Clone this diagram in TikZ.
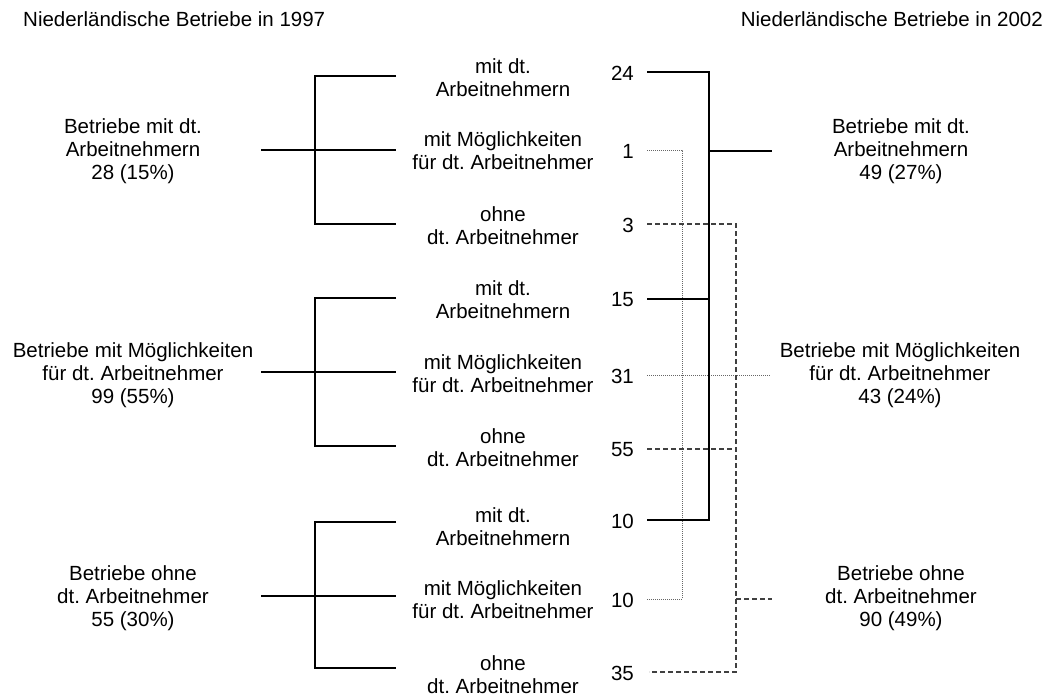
\documentclass[tikz,border=0pt]{standalone}
\usepackage{fontspec}
\setmainfont{Liberation Sans}
\frenchspacing
\begin{document}
\begin{tikzpicture}[x=1pt,y=-1pt,
  txt/.style={font=\fontsize{20.5}{23}\selectfont, align=center, inner sep=0pt},
  num/.style={txt, anchor=east},
  brk/.style={line width=1.2pt},
  solidA/.style={line width=1.6pt},
  solidB/.style={line width=2.8pt},
  dotln/.style={black!60, line width=0.9pt, dash pattern=on 1pt off 1pt},
  dashln/.style={black!75, line width=1.1pt, dash pattern=on 5pt off 3pt}]
\useasboundingbox (0,0) rectangle (1045,697);

% titles
\node[txt, anchor=west] (t1) at (23,19) {Niederländische Betriebe in 1997};
\node[txt, anchor=east] (t2) at (1043,19) {Niederländische Betriebe in 2002};

% left group labels
\node[txt] (L1) at (133,151) {Betriebe mit dt.\\Arbeitnehmern\\28 (15\%)};
\node[txt] (L2) at (133,375) {Betriebe mit Möglichkeiten\\für dt. Arbeitnehmer\\99 (55\%)};
\node[txt] (L3) at (133,598) {Betriebe ohne\\dt. Arbeitnehmer\\55 (30\%)};

% middle labels
\node[txt] (m1a) at (503,78) {mit dt.\\Arbeitnehmern};
\node[txt] (m1b) at (503,151) {mit Möglichkeiten\\für dt. Arbeitnehmer};
\node[txt] (m1c) at (503,226) {ohne\\dt. Arbeitnehmer};
\node[txt] (m2a) at (503,300) {mit dt.\\Arbeitnehmern};
\node[txt] (m2b) at (503,374) {mit Möglichkeiten\\für dt. Arbeitnehmer};
\node[txt] (m2c) at (503,448) {ohne\\dt. Arbeitnehmer};
\node[txt] (m3a) at (503,527) {mit dt.\\Arbeitnehmern};
\node[txt] (m3b) at (503,600) {mit Möglichkeiten\\für dt. Arbeitnehmer};
\node[txt] (m3c) at (503,675) {ohne\\dt. Arbeitnehmer};

% numbers
\node[num] (n1) at (634,73) {24};
\node[num] (n2) at (634,151) {1};
\node[num] (n3) at (634,225) {3};
\node[num] (n4) at (634,300) {15};
\node[num] (n5) at (634,376) {31};
\node[num] (n6) at (634,450) {55};
\node[num] (n7) at (634,521) {10};
\node[num] (n8) at (634,600) {10};
\node[num] (n9) at (634,673) {35};

% right group labels
\node[txt] (R1) at (901,151) {Betriebe mit dt.\\Arbeitnehmern\\49 (27\%)};
\node[txt] (R2) at (900,375) {Betriebe mit Möglichkeiten\\für dt. Arbeitnehmer\\43 (24\%)};
\node[txt] (R3) at (901,598) {Betriebe ohne\\dt. Arbeitnehmer\\90 (49\%)};

% left brackets
\foreach \g/\ya/\yb/\yc in {1/76/150/224, 2/298/372/446, 3/522/596/668}{
  \coordinate (s\g) at (261,\yb);
  \coordinate (ja\g) at (315,\ya);
  \coordinate (jb\g) at (315,\yb);
  \coordinate (jc\g) at (315,\yc);
  \coordinate (ea\g) at (396,\ya);
  \coordinate (eb\g) at (396,\yb);
  \coordinate (ec\g) at (396,\yc);
  \draw[brk] (s\g) -- (jb\g) -- (eb\g);
  \draw[brk] (ea\g) -- (ja\g) -- (jc\g) -- (ec\g);
}

% right side connector coordinates
\coordinate (p1) at (647,72);
\coordinate (p2) at (647,150);
\coordinate (p3) at (647,224);
\coordinate (p4) at (647,299);
\coordinate (p5) at (647,375);
\coordinate (p6) at (647,449);
\coordinate (p7) at (647,520);
\coordinate (p8) at (647,599);
\coordinate (p9) at (649,672);

\coordinate (dotTop) at (682,150);
\coordinate (dotBot) at (682,599);
\coordinate (dotEnd) at (770,375);

\coordinate (dashTop) at (736,224);
\coordinate (dashMid) at (736,449);
\coordinate (dashOut) at (736,599);
\coordinate (dashBot) at (736,672);
\coordinate (dashEnd) at (772,599);

\coordinate (solTop) at (709,72);
\coordinate (solMid) at (709,299);
\coordinate (solOut) at (709,151);
\coordinate (solBot) at (709,520);
\coordinate (solEnd) at (772,151);

% dotted
\draw[dotln] (p2) -- (dotTop) -- (dotBot) -- (p8);
\draw[dotln] (p5) -- (dotEnd);
% dashed
\draw[dashln] (p3) -- (dashTop) -- (dashBot) -- (p9);
\draw[dashln] (p6) -- (dashMid);
\draw[dashln] (dashOut) -- (dashEnd);
% solid
\draw[solidA] (p1) -- (solTop) -- (solBot) -- (p7);
\draw[solidB] (p4) -- (solMid);
\draw[solidB] (solOut) -- (solEnd);
\end{tikzpicture}
\end{document}
